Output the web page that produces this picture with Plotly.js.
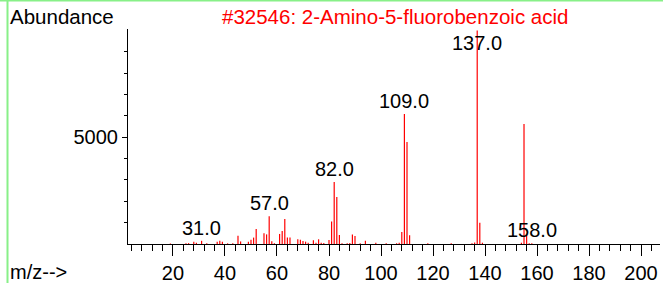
<!DOCTYPE html>
<html>
<head>
<meta charset="utf-8">
<script src="https://cdn.plot.ly/plotly-3.0.1.min.js"></script>
<style>
  html, body { margin: 0; padding: 0; background: #fff; }
  #chart { width: 663px; height: 283px; }
</style>
</head>
<body>
<div id="chart"></div>
<script>
// m/z values and abundances
const mz = [19, 25, 26, 28, 29, 31, 33, 37, 38, 39, 41, 43, 45, 46, 49, 50, 51, 52, 55, 56, 57, 58, 59,
            61, 62, 63, 64, 65, 68, 69, 70, 71, 72, 74, 75, 76, 77, 78, 80, 81, 82, 83, 84, 85, 87, 88,
            89, 90, 92, 94, 98, 102, 106, 107, 108, 109, 110, 111, 118, 127, 135, 136, 137, 138, 139,
            154, 155, 156, 157, 158];
const abundance = [20, 30, 40, 100, 60, 150, 30, 100, 150, 100, 30, 40, 390, 120, 100, 200, 300, 700, 500, 450, 1300, 125, 40,
            470, 610, 1170, 300, 300, 220, 200, 140, 110, 60, 170, 60, 220, 60, 50, 190, 1050, 2900, 2200, 420, 30, 40, 50,
            440, 375, 40, 155, 63, 30, 40, 60, 560, 6080, 4780, 410, 30, 30, 30, 70, 9999, 1000, 60,
            60, 5620, 450, 40, 30];
// labelled peaks
const labelMz = [31, 57, 82, 109, 137, 158];
const labelText = ["31.0", "57.0", "82.0", "109.0", "137.0", "158.0"];
const xTickVals = [20, 40, 60, 80, 100, 120, 140, 160, 180, 200];
const yTickVals = [5000];
const yMinorVals = [1000, 2000, 3000, 4000, 6000, 7000, 8000, 9000];
const titleText = "#32546: 2-Amino-5-fluorobenzoic acid";

const FONT = "Liberation Sans, Arial, sans-serif";
const FS = 20;

const lookup = {};
mz.forEach((m, i) => { lookup[m] = abundance[i]; });
const yMax = 10065;

// stick spectrum: one vertical segment per peak
const sx = [], sy = [];
mz.forEach((m, i) => { sx.push(m, m, null); sy.push(0, abundance[i], null); });

const annotations = labelMz.map((m, i) => {
  const top = lookup[m] > yMax * 0.9;   // label kept inside the plot for the tallest peak
  return {
    x: m, y: lookup[m], xref: 'x', yref: 'y',
    text: labelText[i], showarrow: false,
    xanchor: 'center', yanchor: top ? 'top' : 'bottom',
    font: { family: FONT, size: FS, color: '#000' }
  };
});

annotations.push({
  x: 0.502, y: 1.057, xref: 'paper', yref: 'paper', text: titleText,
  showarrow: false, xanchor: 'center', yanchor: 'middle',
  font: { family: FONT, size: 20.5, color: '#ff0000' }
});
annotations.push({
  x: -0.2256, y: 1.057, xref: 'paper', yref: 'paper', text: 'Abundance',
  showarrow: false, xanchor: 'left', yanchor: 'middle',
  font: { family: FONT, size: 20.5, color: '#000' }
});
annotations.push({
  x: -0.2256, y: -0.13, xref: 'paper', yref: 'paper', text: 'm/z-->',
  showarrow: false, xanchor: 'left', yanchor: 'middle',
  font: { family: FONT, size: FS, color: '#000' }
});

const trace = {
  type: 'scatter', mode: 'lines', x: sx, y: sy, connectgaps: false,
  line: { color: '#ff0000', width: 1.2 },
  hoverinfo: 'skip'
};

const layout = {
  width: 663, height: 283,
  margin: { l: 128, r: 3, t: 29, b: 39, pad: 0 },
  paper_bgcolor: '#fff', plot_bgcolor: '#fff',
  showlegend: false,
  xaxis: {
    range: [2.7, 207.3], showgrid: false, zeroline: false,
    showline: true, linecolor: '#000', linewidth: 1,
    ticks: 'outside', ticklen: 11, tickcolor: '#000', tickwidth: 1,
    tickmode: 'array', tickvals: xTickVals, ticktext: xTickVals.map(String),
    tickfont: { family: FONT, size: FS, color: '#000' },
    minor: { dtick: 4, tick0: 0, ticks: 'outside', ticklen: 6, tickcolor: '#000', tickwidth: 1, showgrid: false }
  },
  yaxis: {
    range: [0, yMax], showgrid: false, zeroline: false,
    showline: true, linecolor: '#000', linewidth: 1,
    ticks: 'outside', ticklen: 5, tickcolor: '#000', tickwidth: 1,
    tickmode: 'array', tickvals: yTickVals, ticktext: yTickVals.map(String),
    tickfont: { family: FONT, size: FS, color: '#000' },
    minor: { tickmode: 'array', tickvals: yMinorVals, ticks: 'outside', ticklen: 3, tickcolor: '#000', tickwidth: 1, showgrid: false }
  },
  annotations: annotations,
  shapes: [
    { type: 'line', xref: 'paper', yref: 'paper', x0: -0.2265, x1: -0.2265, y0: -0.3, y1: 1.2,
      line: { color: '#88f088', width: 2 } },
    { type: 'line', xref: 'paper', yref: 'paper', x0: -0.3, x1: 1.1, y0: 1.132, y1: 1.132,
      line: { color: '#88f088', width: 2 } }
  ]
};

Plotly.newPlot('chart', [trace], layout, { staticPlot: true, displayModeBar: false });
</script>
</body>
</html>
